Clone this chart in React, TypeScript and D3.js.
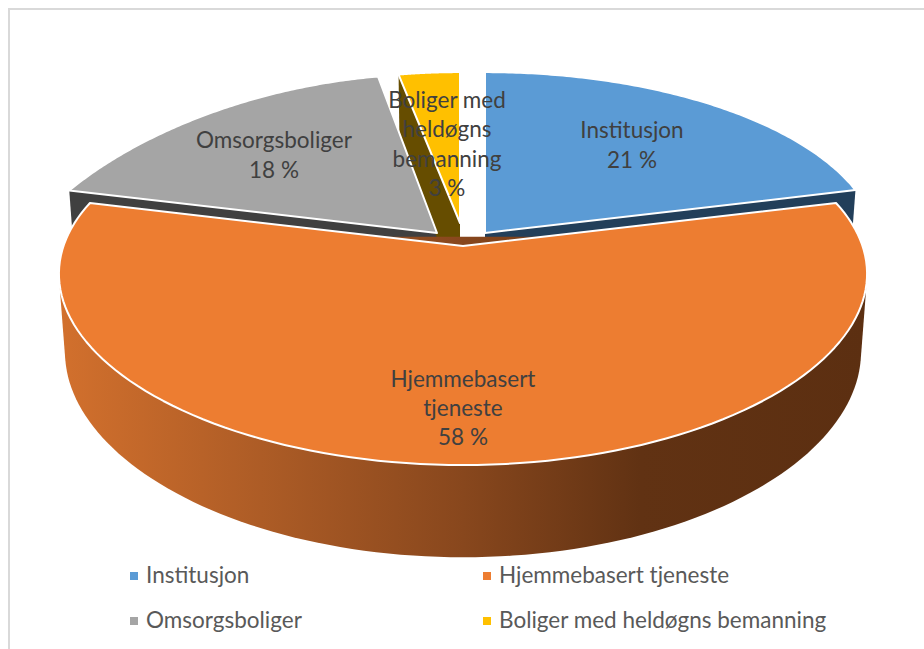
import React from "react";
import * as d3 from "d3";

const categories = ["Institusjon", "Hjemmebasert tjeneste", "Omsorgsboliger", "Boliger med heldøgns bemanning"];
const values = [21, 58, 18, 3];
const faceColors = ["#5B9BD5", "#ED7D31", "#A5A5A5", "#FFC000"];
const wallColors = ["#223F5A", "#7a4018", "#404040", "#664D00"];
const labelLines = [["Institusjon", "21 %"], ["Hjemmebasert", "tjeneste", "58 %"], ["Omsorgsboliger", "18 %"], ["Boliger med", "heldøgns", "bemanning", "3 %"]];

// per-slice projection of the exploded disk: apex, radii, perspective (y and x)
const views = [
  { cx: 485, cy: 233, a: 392, b: 177, p: 0.1, q: 0.1 },
  { cx: 463, cy: 246, a: 399.5, b: 180.5, p: 0.176, q: 0.15 },
  { cx: 437, cy: 233, a: 408, b: 175, p: 0.1, q: 0.3 },
  { cx: 460, cy: 223, a: 360, b: 166, p: 0.1, q: 0.1 },
];
const DEPTH = 76;
const labelPos = [[632, 130], [463, 379], [274, 140], [447, 100]];
const labelStep = [30, 29, 30, 29.5];
const FONT = "Lato, 'Open Sans', sans-serif";
const FONT_SIZE = 22.5;

type V = { cx: number; cy: number; a: number; b: number; p: number; q: number };
const proj = (v: V, th: number, drop = 0): [number, number] => {
  const u = Math.sin(th), w = -Math.cos(th);
  const s = 1 / (1 - v.p * w);
  const sx = 1 / (1 - v.q * w);
  const k = drop ? 0.985 : 1;
  return [v.cx + v.a * u * sx * k, v.cy + v.b * w * s + drop * s];
};

export default function App() {
  const arcs = d3.pie<number>().sort(null)(values);
  const line = d3.line();
  const rim = (v: V, a0: number, a1: number, drop = 0) =>
    d3.range(0, 121).map((i) => proj(v, a0 + ((a1 - a0) * i) / 120, drop));
  const face = (i: number) => {
    const v = views[i];
    const pts: [number, number][] = [[v.cx, v.cy], ...rim(v, arcs[i].startAngle, arcs[i].endAngle)];
    return line(pts)! + "Z";
  };
  const sideWall = (i: number, th: number) => {
    const v = views[i];
    const o = proj(v, th), oD = proj(v, th, DEPTH);
    const dApex = DEPTH * 0.95;
    const pts: [number, number][] = [[v.cx, v.cy], o, oD, [v.cx, v.cy + dApex]];
    return line(pts)! + "Z";
  };
  const o = arcs[1];
  const ov = views[1];
  // silhouette of the front wall: hull of the front part of the upper and lower rim
  const frontA0 = o.startAngle + 0.2;
  const frontA1 = o.endAngle - 0.2;
  const hull = d3.polygonHull([...rim(ov, frontA0, frontA1), ...rim(ov, frontA0, frontA1, DEPTH)])!;
  const outer = line(hull)! + "Z";
  const stops: [number, string][] = [[0, "#d2702d"], [0.25, "#ad5c26"], [0.5, "#88471d"], [0.72, "#613213"], [1, "#5c2f11"]];

  return (
    <svg width={924} height={649} style={{ position: "absolute", left: 0, top: 0, background: "#fff" }} fontFamily={FONT}>
      <defs>
        <linearGradient id="wall" gradientUnits="userSpaceOnUse" x1={60} x2={866} y1={0} y2={0}>
          {stops.map(([t, c]) => <stop key={t} offset={t} stopColor={c} />)}
        </linearGradient>
      </defs>
      <rect x={9} y={9} width={920} height={660} fill="#fff" stroke="#d9d9d9" strokeWidth={2} />
      {/* side walls of the exploded back slices */}
      <path d={sideWall(0, arcs[0].endAngle)} fill={wallColors[0]} />
      <path d={sideWall(2, arcs[2].startAngle)} fill={wallColors[2]} />
      <path d={sideWall(3, arcs[3].startAngle)} fill={wallColors[3]} />
      {[3, 2, 0].map((i) => (
        <path key={i} d={face(i)} fill={faceColors[i]} stroke="#fff" strokeWidth={2} strokeLinejoin="round" />
      ))}
      <path d={outer} fill="url(#wall)" />
      <path d={face(1)} fill={faceColors[1]} stroke="#fff" strokeWidth={2} strokeLinejoin="round" />
      {labelLines.map((ls, i) =>
        ls.map((t, j) => (
          <text key={t} x={labelPos[i][0]} y={labelPos[i][1] + j * labelStep[i]} dy="0.35em" textAnchor="middle" fontSize={FONT_SIZE} fill="#404040">{t}</text>
        ))
      )}
      {categories.map((c, i) => {
        const x = i % 2 === 0 ? 130 : 483;
        const y = i < 2 ? 572 : 617;
        return (
          <g key={c}>
            <rect x={x} y={y} width={8} height={8} fill={faceColors[i]} />
            <text x={x + 16} y={y + 11} fontSize={FONT_SIZE} fill="#595959">{c}</text>
          </g>
        );
      })}
    </svg>
  );
}
